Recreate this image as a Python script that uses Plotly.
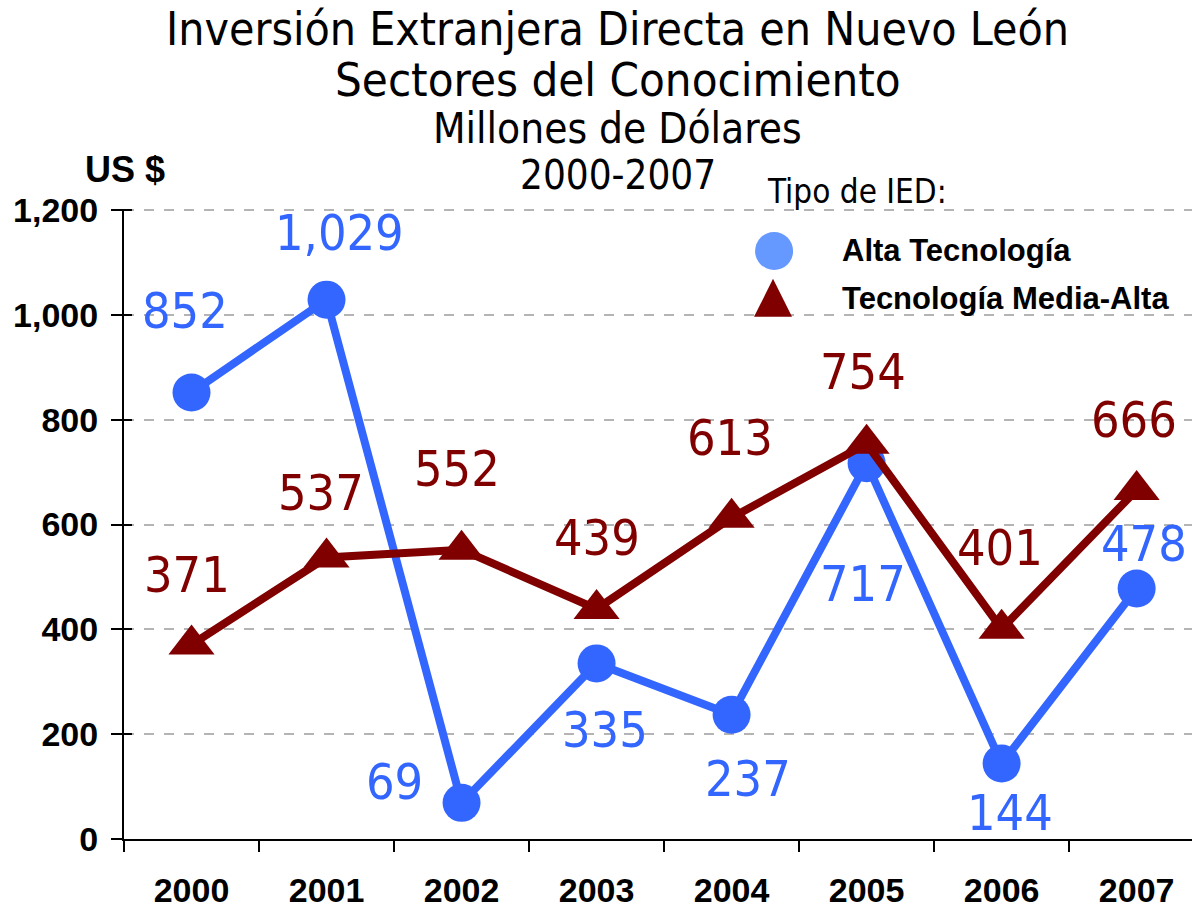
import plotly.graph_objects as go

# data
years = ["2000", "2001", "2002", "2003", "2004", "2005", "2006", "2007"]
alta = [852, 1029, 69, 335, 237, 717, 144, 478]
media_alta = [371, 537, 552, 439, 613, 754, 401, 666]
y_ticks = [0, 200, 400, 600, 800, 1000, 1200]

# label offsets (px) for the value labels
alta_shift = [(-7, 81), (13, 67), (-67, 21), (8, -67), (16, -64), (-4, -121), (8, -49), (7, 44)]
media_shift = [(-5, 70), (-6, 65), (-5, 81), (0, 71), (-2, 80), (-4, 72), (-2, 81), (-3, 70)]

BLUE = "#3366FF"
LIGHT_BLUE = "#6699FF"
RED = "#800000"
NARROW = "DejaVu Sans Condensed, Liberation Sans Narrow, sans-serif"
SANS = "Liberation Sans, Arial, sans-serif"

fig = go.Figure()
fig.add_trace(go.Scatter(x=years, y=alta, mode="lines+markers", name="Alta Tecnología",
                         line=dict(color=BLUE, width=8),
                         marker=dict(symbol="circle", size=38, color=BLUE),
                         showlegend=False))
fig.add_trace(go.Scatter(x=years, y=media_alta, mode="lines+markers", name="Tecnología Media-Alta",
                         line=dict(color=RED, width=8),
                         marker=dict(symbol="triangle-up", size=40, color=RED),
                         showlegend=False))
# second y axis only to get ticks crossing the axis line
fig.add_trace(go.Scatter(x=years, y=alta, yaxis="y2", mode="none", showlegend=False, hoverinfo="skip"))

annotations = []
for i, (v, (dx, dy)) in enumerate(zip(alta, alta_shift)):
    annotations.append(dict(x=i, y=v, xref="x", yref="y", text=f"{v:,}", showarrow=False,
                            xshift=dx, yshift=dy, font=dict(family=NARROW, size=50, color=BLUE)))
for i, (v, (dx, dy)) in enumerate(zip(media_alta, media_shift)):
    annotations.append(dict(x=i, y=v, xref="x", yref="y", text=f"{v:,}", showarrow=False,
                            xshift=dx, yshift=dy, font=dict(family=NARROW, size=50, color=RED)))

# titles
title_lines = [("Inversión Extranjera Directa en Nuevo León", 46, 1.286),
               ("Sectores del Conocimiento", 47, 1.206),
               ("Millones de Dólares", 42, 1.127),
               ("2000-2007", 40, 1.054)]
for txt, sz, yy in title_lines:
    annotations.append(dict(x=0.4625, y=yy, xref="paper", yref="paper", text=txt, showarrow=False,
                            xanchor="center", yanchor="middle",
                            font=dict(family=NARROW, size=sz, color="black")))
annotations.append(dict(x=0.001, y=1.062, xref="paper", yref="paper", text="US $", showarrow=False,
                        xanchor="center", yanchor="middle",
                        font=dict(family=SANS, size=36, color="black", weight="bold")))

# legend
annotations.append(dict(x=0.6002, y=1.027, xref="paper", yref="paper", text="Tipo de IED:",
                        showarrow=False, xanchor="left", yanchor="middle",
                        font=dict(family=NARROW, size=33, color="black")))
annotations.append(dict(x=0.6704, y=0.9334, xref="paper", yref="paper", text="Alta Tecnología",
                        showarrow=False, xanchor="left", yanchor="middle",
                        font=dict(family=SANS, size=31, color="black", weight="bold")))
annotations.append(dict(x=0.6704, y=0.858, xref="paper", yref="paper", text="Tecnología Media-Alta",
                        showarrow=False, xanchor="left", yanchor="middle",
                        font=dict(family=SANS, size=31, color="black", weight="bold")))

shapes = [
    dict(type="circle", xref="paper", yref="paper", xsizemode="pixel", ysizemode="pixel",
         xanchor=0.6087, yanchor=0.9334, x0=-19, x1=19, y0=-19, y1=19,
         fillcolor=LIGHT_BLUE, line=dict(width=0)),
    dict(type="path", xref="paper", yref="paper", xsizemode="pixel", ysizemode="pixel",
         xanchor=0.6077, yanchor=0.859, path="M -19,-19 L 19,-19 L 0,19 Z",
         fillcolor=RED, line=dict(width=0)),
]

fig.update_layout(
    width=1192, height=909,
    margin=dict(l=124, r=0, t=209, b=68),
    paper_bgcolor="white", plot_bgcolor="white",
    showlegend=False,
    annotations=annotations,
    shapes=shapes,
    xaxis=dict(type="category", range=[-0.5, 7.41], tickson="boundaries",
               ticks="outside", ticklen=11, tickwidth=2, tickcolor="black",
               showline=True, linecolor="black", linewidth=2, showgrid=False,
               ticklabelstandoff=20,
               tickfont=dict(family=SANS, size=34, color="black", weight="bold")),
    yaxis=dict(range=[0, 1202], tickvals=y_ticks, tickformat=",d",
               ticks="outside", ticklen=11, tickwidth=2, tickcolor="black",
               showline=True, linecolor="black", linewidth=2,
               showgrid=True, gridcolor="#b4b4b4", gridwidth=1.5, griddash="10px,10px",
               zeroline=False, ticklabelstandoff=6,
               tickfont=dict(family=SANS, size=34, color="black", weight="bold")),
    yaxis2=dict(range=[0, 1202], tickvals=y_ticks, overlaying="y", side="left",
                ticks="inside", ticklen=8, tickwidth=2, tickcolor="black",
                showticklabels=False, showgrid=False, showline=False, zeroline=False),
)

fig.write_html("out.html", config={"displayModeBar": False},
               post_script="document.body.style.margin='0';")
